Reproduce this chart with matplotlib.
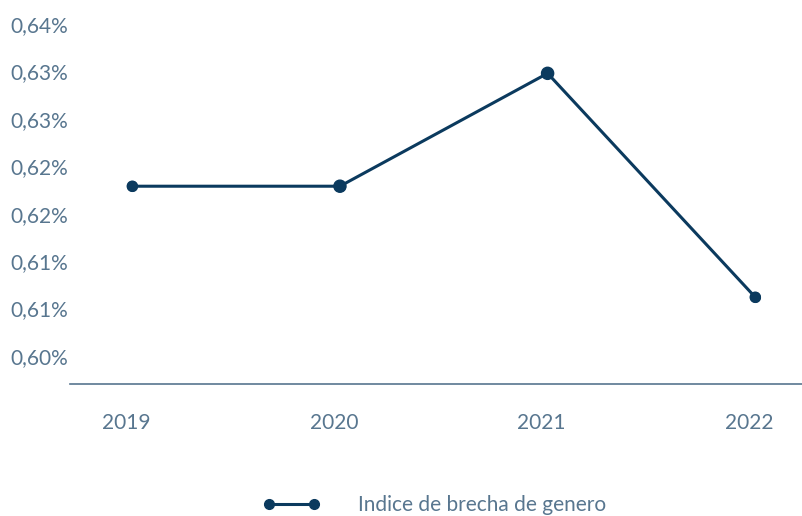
import matplotlib.pyplot as plt
from matplotlib.ticker import FixedLocator, FuncFormatter
from matplotlib.transforms import ScaledTranslation

# Data
years = ["2019", "2020", "2021", "2022"]
brecha = [0.6179, 0.6179, 0.6298, 0.6062]
marker_sizes = [52, 76, 76, 52]
y_ticks = [0.600, 0.605, 0.610, 0.615, 0.620, 0.625, 0.630, 0.635]

LINE_COLOR = "#0b3a5e"
TEXT_COLOR = "#58768f"

plt.rcParams['font.family'] = ['Lato', 'DejaVu Sans']

fig = plt.figure(figsize=(8.03, 5.16), dpi=100)
ax = fig.add_axes([70 / 803, (516 - 384) / 516, 733 / 803, 384 / 516])

x = list(range(len(years)))
ax.plot(x, brecha, color=LINE_COLOR, linewidth=2.2, zorder=2,
        marker="o", markersize=7, label="Indice de brecha de genero")
ax.scatter(x, brecha, s=marker_sizes, color=LINE_COLOR, zorder=3)

ax.set_xlim(-0.30, 3.23)
ax.set_ylim(0.59705, 0.63753)

ax.yaxis.set_major_locator(FixedLocator(y_ticks))
ax.yaxis.set_major_formatter(FuncFormatter(
    lambda v, p: ("%.2f%%" % (round(v * 100 + 1e-9) / 100)).replace(".", ",")))
ax.set_xticks(x)
ax.set_xticklabels(years)

for s in ["top", "right", "left"]:
    ax.spines[s].set_visible(False)
ax.spines["bottom"].set_color(TEXT_COLOR)
ax.spines["bottom"].set_linewidth(1.2)

ax.tick_params(axis="both", length=0, labelsize=15, labelcolor=TEXT_COLOR)
ax.tick_params(axis="x", pad=21)
ax.tick_params(axis="y", pad=1)

# year labels sit a little left of the points in the original
shift = ScaledTranslation(-6 / 100, 0, fig.dpi_scale_trans)
for lbl in ax.get_xticklabels():
    lbl.set_transform(lbl.get_transform() + shift)

leg = fig.legend(loc="center left", bbox_to_anchor=(244 / 803, 11 / 516),
                 frameon=False, handlelength=2.75, handletextpad=1.8,
                 numpoints=2, prop={"size": 15})
for t in leg.get_texts():
    t.set_color(TEXT_COLOR)

plt.savefig("out.png", dpi=100)
